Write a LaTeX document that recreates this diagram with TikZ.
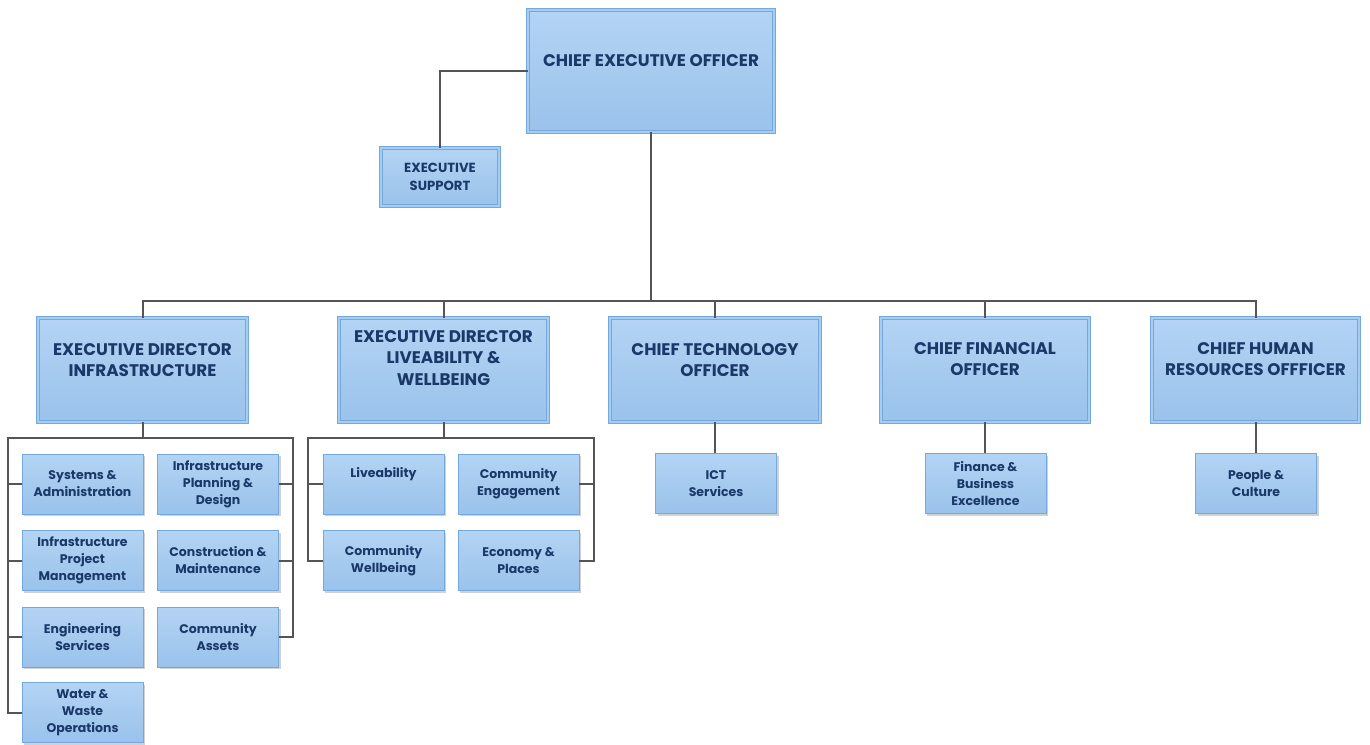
\documentclass[tikz,border=0pt]{standalone}
\usepackage{fontspec}
\setmainfont{Poppins}
\usetikzlibrary{shadows}
\definecolor{boxtop}{HTML}{B3D4F4}
\definecolor{boxbot}{HTML}{9AC2EB}
\definecolor{boxmid}{HTML}{A8CCF0}
\definecolor{bordc}{HTML}{72A9DF}
\definecolor{navy}{HTML}{1A3868}
\definecolor{linec}{HTML}{555555}
\tikzset{
  box/.style={draw=bordc, line width=0.9pt, top color=boxtop, bottom color=boxbot,
    drop shadow={shadow xshift=2pt, shadow yshift=-2pt, fill=black, opacity=0.18},
    text=navy, align=center, inner sep=2pt},
  bigbox/.style={box, double=boxmid, double distance=2.6pt, line width=0.8pt},
  bigtxt/.style={text=navy, align=center, font=\fontsize{16.8}{21.5}\selectfont\bfseries},
  smalltxt/.style={font=\fontsize{12.5}{17}\selectfont\bfseries},
  smallbox/.style={box, smalltxt, minimum width=121pt, minimum height=60pt},
  conn/.style={draw=linec, line width=2pt},
}
\begin{document}
\begin{tikzpicture}[x=1pt,y=-1pt]
\useasboundingbox (0,0) rectangle (1370,744);
% top level
\node[bigbox, minimum width=246pt, minimum height=122pt,
  label={[bigtxt, yshift=10pt]center:CHIEF EXECUTIVE OFFICER}] (ceo) at (651,71) {};
\node[bigbox, minimum width=118pt, minimum height=58pt,
  label={[bigtxt, font=\fontsize{13.2}{18}\selectfont\bfseries]center:{EXECUTIVE\\SUPPORT}}] (es) at (440,177) {};
% level 2
\node[bigbox, minimum width=209pt, minimum height=104pt,
  label={[bigtxt, yshift=10pt]center:{EXECUTIVE DIRECTOR\\INFRASTRUCTURE}}] (edi) at (142.5,370) {};
\node[bigbox, minimum width=209pt, minimum height=104pt,
  label={[bigtxt, yshift=12pt]center:{EXECUTIVE DIRECTOR\\LIVEABILITY \&\\WELLBEING}}] (edlw) at (443.5,370) {};
\node[bigbox, minimum width=210pt, minimum height=104pt,
  label={[bigtxt, yshift=10pt]center:{CHIEF TECHNOLOGY\\OFFICER}}] (cto) at (715,370) {};
\node[bigbox, minimum width=208pt, minimum height=104pt,
  label={[bigtxt, yshift=11pt]center:{CHIEF FINANCIAL\\OFFICER}}] (cfo) at (985,370) {};
\node[bigbox, minimum width=207pt, minimum height=104pt,
  label={[bigtxt, yshift=11pt]center:{CHIEF HUMAN\\RESOURCES OFFFICER}}] (chro) at (1255.5,370) {};
% infrastructure units
\node[smallbox] (s1) at (82.5,484) {Systems \&\\Administration};
\node[smallbox] (s2) at (218,484) {Infrastructure\\Planning \&\\Design};
\node[smallbox] (s3) at (82.5,560.5) {Infrastructure\\Project\\Management};
\node[smallbox] (s4) at (218,560.5) {Construction \&\\Maintenance};
\node[smallbox] (s5) at (82.5,637) {Engineering\\Services};
\node[smallbox] (s6) at (218,637) {Community\\Assets};
\node[smallbox] (s7) at (82.5,712.5) {Water \&\\Waste\\Operations};
% liveability units
\node[smallbox] (m1) at (383.5,484) {Liveability\\\strut};
\node[smallbox] (m2) at (518.5,484) {Community\\Engagement};
\node[smallbox] (m3) at (383.5,560.5) {Community\\Wellbeing};
\node[smallbox] (m4) at (518.5,560.5) {Economy \&\\Places};
% other units
\node[smallbox] (ict) at (716,483.5) {ICT\\Services};
\node[smallbox] (fin) at (985.5,483.5) {Finance \&\\Business\\Excellence};
\node[smallbox] (pc) at (1256,483.5) {People \&\\Culture};
% coordinates
\coordinate (busy) at (0,301);
\coordinate (lbL) at (8,438);
\coordinate (lbR) at (293,438);
\coordinate (mbL) at (308,438);
\coordinate (mbR) at (594,438);
% connectors
\draw[conn] (ceo.west) -| (es.north);
\draw[conn] (ceo.south) -- (ceo.south |- busy);
\draw[conn] (edi.north) -- (edi.north |- busy) -- (chro.north |- busy) -- (chro.north);
\draw[conn] (edlw.north) -- (edlw.north |- busy);
\draw[conn] (cto.north) -- (cto.north |- busy);
\draw[conn] (cfo.north) -- (cfo.north |- busy);
% infrastructure bracket
\draw[conn] (edi.south) -- (edi.south |- lbL);
\draw[conn] (s7.west) -| (lbL) -- (lbR) |- (s6.east);
\draw[conn] (s1.west) -- (s1.west -| lbL);
\draw[conn] (s3.west) -- (s3.west -| lbL);
\draw[conn] (s5.west) -- (s5.west -| lbL);
\draw[conn] (s2.east) -- (s2.east -| lbR);
\draw[conn] (s4.east) -- (s4.east -| lbR);
% liveability bracket
\draw[conn] (edlw.south) -- (edlw.south |- mbL);
\draw[conn] (m3.west) -| (mbL) -- (mbR) |- (m4.east);
\draw[conn] (m1.west) -- (m1.west -| mbL);
\draw[conn] (m2.east) -- (m2.east -| mbR);
% single units
\draw[conn] (cto.south) -- (cto.south |- ict.north);
\draw[conn] (cfo.south) -- (cfo.south |- fin.north);
\draw[conn] (chro.south) -- (chro.south |- pc.north);
\end{tikzpicture}
\end{document}
